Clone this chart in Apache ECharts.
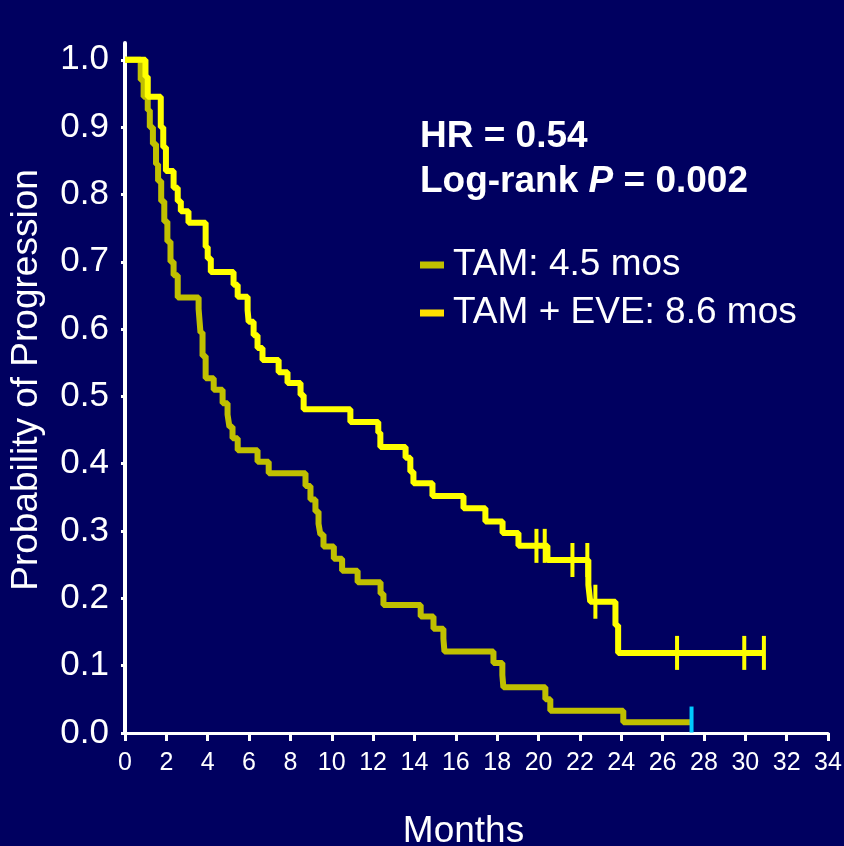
<!DOCTYPE html>
<html>
<head>
<meta charset="utf-8">
<title>KM curve</title>
<script src="https://cdn.jsdelivr.net/npm/echarts@6/dist/echarts.min.js"></script>
<style>
    html, body { margin: 0; padding: 0; background: #000060; }
    #chart { width: 844px; height: 846px; }
</style>
</head>
<body>
<div id="chart"></div>
<script>
    // TAM arm: event times (months) and survival after each step
    var tamTimes = [0, 0.76, 0.9, 1.1, 1.2, 1.35, 1.5, 1.6, 1.75, 1.9, 2.05, 2.2, 2.35, 2.55, 3.56, 3.65, 3.75, 3.9,
        4.29, 4.72, 4.96, 5.05, 5.2, 5.45, 6.41, 6.95, 8.73, 8.97, 9.21, 9.36, 9.45, 9.6, 10.1, 10.5, 11.25, 12.36,
        12.5, 14.3, 14.92, 15.4, 15.45, 17.82, 18.25, 18.3, 20.33, 20.57, 24.1, 27.34];
    var tamSurv = [1, 0.97, 0.945, 0.925, 0.9, 0.875, 0.845, 0.82, 0.79, 0.76, 0.73, 0.7, 0.68, 0.647, 0.63, 0.595, 0.56, 0.527,
        0.51, 0.49, 0.473, 0.455, 0.438, 0.42, 0.403, 0.386, 0.367, 0.347, 0.329, 0.311, 0.295, 0.277, 0.259, 0.241, 0.224, 0.207,
        0.19, 0.173, 0.155, 0.14, 0.121, 0.104, 0.086, 0.068, 0.05, 0.033, 0.016, 0.016];
    var tamCensTimes = [27.4];
    var tamCensSurv = [0.02];

    // TAM + EVE arm
    var eveTimes = [0, 0.99, 1.1, 1.73, 1.85, 1.98, 2.35, 2.55, 2.7, 3.07, 3.9, 4.0, 4.15, 5.25, 5.45, 5.93, 5.98, 6.22,
        6.41, 6.65, 7.43, 7.86, 8.49, 8.64, 10.9, 12.25, 12.35, 13.57, 13.8, 13.95, 14.87, 16.37, 17.43, 18.26, 19.03,
        20.43, 22.41, 22.5, 23.72, 23.85, 30.9];
    var eveSurv = [1, 0.975, 0.945, 0.9, 0.87, 0.835, 0.81, 0.79, 0.775, 0.758, 0.722, 0.705, 0.685, 0.666, 0.648, 0.628, 0.611, 0.591,
        0.572, 0.554, 0.536, 0.52, 0.502, 0.481, 0.462, 0.446, 0.425, 0.409, 0.388, 0.371, 0.352, 0.334, 0.314, 0.297, 0.278,
        0.257, 0.22, 0.195, 0.16, 0.119, 0.119];
    var eveCensTimes = [19.9, 20.3, 21.64, 22.36, 22.75, 26.7, 29.95, 30.9];
    var eveCensSurv = [0.278, 0.278, 0.257, 0.257, 0.195, 0.119, 0.119, 0.119];

    var yTicks = [0, 0.1, 0.2, 0.3, 0.4, 0.5, 0.6, 0.7, 0.8, 0.9, 1.0];
    var legendNames = ['TAM: 4.5 mos', 'TAM + EVE: 8.6 mos'];

    function pairs(xs, ys) {
        var out = [];
        for (var i = 0; i < xs.length; i++) out.push([xs[i], ys[i]]);
        return out;
    }

    var font = '"Liberation Sans", Arial, sans-serif';
    var chart = echarts.init(document.getElementById('chart'));

    var option = {
        backgroundColor: '#000060',
        animation: false,
        grid: { left: 125, right: 16, top: 43, bottom: 113, containLabel: false, outerBoundsMode: 'none' },
        xAxis: {
            type: 'value',
            min: 0, max: 34, interval: 2,
            name: 'Months',
            nameLocation: 'middle',
            nameGap: 80,
            nameTextStyle: { color: '#fff', fontSize: 37, fontFamily: font, padding: [0, 26, 0, 0] },
            axisLine: { lineStyle: { color: '#fff', width: 3 } },
            axisTick: { length: 8, lineStyle: { color: '#fff', width: 3 } },
            axisLabel: { color: '#fff', fontSize: 25, fontFamily: font, margin: 18 },
            splitLine: { show: false }
        },
        yAxis: {
            type: 'value',
            min: 0, max: 1.025,
            name: 'Probability of Progression',
            nameLocation: 'middle',
            nameGap: 80,
            nameTextStyle: { color: '#fff', fontSize: 37, fontFamily: font, padding: [0, 0, 0, 16] },
            axisLine: { show: true, lineStyle: { color: '#fff', width: 4 } },
            axisTick: { show: true, length: 4, customValues: yTicks, lineStyle: { color: '#fff', width: 3 } },
            axisLabel: {
                color: '#fff', fontSize: 35, fontFamily: font, margin: 16,
                customValues: yTicks,
                formatter: function (v) { return v.toFixed(1); }
            },
            splitLine: { show: false }
        },
        legend: {
            orient: 'vertical',
            left: 420, top: 245,
            padding: 0,
            itemGap: 8,
            itemWidth: 24, itemHeight: 7,
            icon: 'rect',
            textStyle: { color: '#fff', fontSize: 37, fontFamily: font, lineHeight: 40, padding: [0, 0, 0, 4] },
            data: [
                { name: legendNames[0], itemStyle: { color: '#c0c000' } },
                { name: legendNames[1], itemStyle: { color: '#ffe000' } }
            ]
        },
        graphic: [{
            type: 'text',
            left: 420, top: 118,
            style: {
                text: '{b|HR = 0.54}\n{b|Log-rank }{bi|P}{b| = 0.002}',
                fill: '#fff',
                rich: {
                    b: { fontSize: 37, fontWeight: 'bold', fontFamily: font, fill: '#fff', lineHeight: 45 },
                    bi: { fontSize: 37, fontWeight: 'bold', fontStyle: 'italic', fontFamily: font, fill: '#fff', lineHeight: 45 }
                }
            }
        }],
        series: [
            {
                name: legendNames[0],
                type: 'line',
                step: 'end',
                showSymbol: false,
                color: '#c0c000',
                lineStyle: { color: '#c0c000', width: 6 },
                data: pairs(tamTimes, tamSurv),
                z: 2
            },
            {
                name: legendNames[1],
                type: 'line',
                step: 'end',
                showSymbol: false,
                color: '#ffff00',
                lineStyle: { color: '#ffff00', width: 6 },
                data: pairs(eveTimes, eveSurv),
                z: 3
            },
            {
                name: 'TAM censored',
                type: 'scatter',
                symbol: 'rect',
                symbolSize: [4, 26],
                itemStyle: { color: '#00ccff', opacity: 1 },
                data: pairs(tamCensTimes, tamCensSurv),
                z: 4
            },
            {
                name: 'TAM + EVE censored',
                type: 'scatter',
                symbol: 'rect',
                symbolSize: [4, 34],
                itemStyle: { color: '#ffff00', opacity: 1 },
                data: pairs(eveCensTimes, eveCensSurv),
                z: 4
            }
        ]
    };
    chart.setOption(option);
</script>
</body>
</html>
